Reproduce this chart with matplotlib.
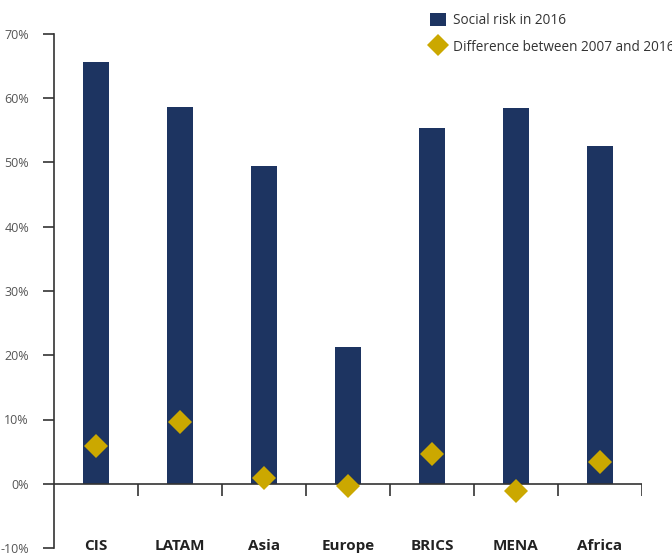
import matplotlib
matplotlib.use("Agg")
import matplotlib.pyplot as plt
from matplotlib.lines import Line2D
from matplotlib.patches import Patch
import numpy as np

categories = ["CIS", "LATAM", "Asia", "Europe", "BRICS", "MENA", "Africa"]
social_risk_2016 = [65.7, 58.6, 49.5, 21.3, 55.4, 58.5, 52.6]
diff_2007_2016 = [5.9, 9.6, 0.9, -0.3, 4.7, -1.2, 3.4]
yticks = [-10, 0, 10, 20, 30, 40, 50, 60, 70]

bar_color = "#1d3461"
dia_color = "#cba800"
axis_color = "#333333"
text_color = "#555555"

plt.rcParams['font.family'] = ['Open Sans', 'DejaVu Sans']

fig = plt.figure(figsize=(6.72, 5.56), dpi=100)
ax = fig.add_axes([54/672, 8/556, (642-54)/672, (548-34)/556])

x = np.arange(len(categories))
ax.bar(x, social_risk_2016, width=0.31, color=bar_color, zorder=2)
ax.plot(x, diff_2007_2016, linestyle='none', marker='D', markersize=12.5,
        color=dia_color, markeredgewidth=0, zorder=4)

ax.set_xlim(-0.5, len(categories) - 0.5)
ax.set_ylim(-10, 70)

for s in ['top', 'right', 'bottom']:
    ax.spines[s].set_visible(False)
ax.spines['left'].set_color(axis_color)
ax.spines['left'].set_linewidth(1.2)

ax.set_yticks(yticks)
ax.set_yticklabels([f"{v}%" for v in yticks], fontsize=9, color=text_color)
ax.tick_params(axis='y', length=8, width=1.2, color=axis_color, pad=10)
ax.set_xticks([])

# zero line and category boundary ticks
ax.axhline(0, color=axis_color, linewidth=1.2, zorder=3)
bounds = np.arange(len(categories)) + 0.5
ax.vlines(bounds, -1.85, 0, color=axis_color, linewidth=1.2, zorder=3)

for xi, c in zip(x, categories):
    ax.text(xi, -9.7, c, ha='center', va='center', fontsize=11,
            fontweight='bold', color='#222222', clip_on=False)

handles = [Patch(facecolor=bar_color, edgecolor='none', label="Social risk in 2016"),
           Line2D([], [], linestyle='none', marker='D', markersize=11,
                  color=dia_color, markeredgewidth=0,
                  label="Difference between 2007 and 2016")]
leg = fig.legend(handles=handles, loc='upper left', bbox_to_anchor=(420/672, 1 - 3/556),
                 frameon=False, fontsize=9.8, handlelength=1.2, handleheight=1.2,
                 handletextpad=0.55, labelspacing=0.8, borderaxespad=0.3)
for t in leg.get_texts():
    t.set_color('#333333')

fig.savefig("out.png", dpi=100)
